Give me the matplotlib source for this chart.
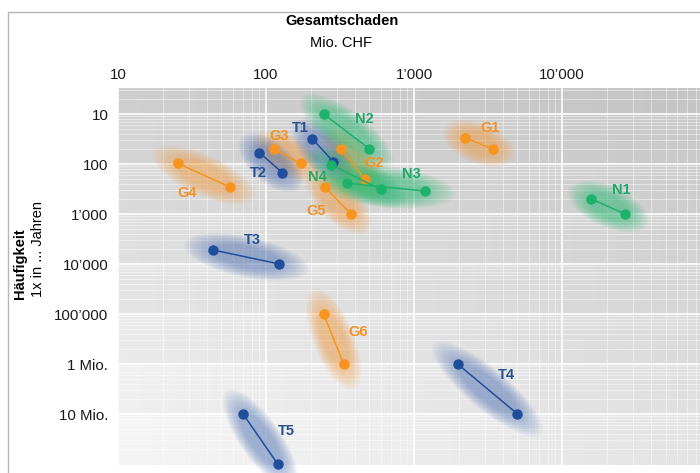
import numpy as np
import matplotlib
matplotlib.use("Agg")
import matplotlib.pyplot as plt
from matplotlib.ticker import FixedLocator, FixedFormatter, NullFormatter, LogLocator
from matplotlib.patches import Rectangle

plt.rcParams['font.family'] = ['Liberation Sans', 'DejaVu Sans']

# ======== Data (Schaden in Mio. CHF, Wiederkehrperiode in Jahren) ========
names = ['G1', 'G2', 'G3', 'G4', 'G5', 'G6',
         'T1', 'T2', 'T3', 'T4', 'T5',
         'N1', 'N2', 'N3', 'N4']
damage_a = [2210, 320, 113, 25.4, 250, 245,
            205, 90, 44, 1970, 70,
            15700, 245, 354, 274]
damage_b = [3420, 465, 171, 57, 375, 335,
            285, 129, 123, 5000, 120,
            26700, 500, 1180, 596]
period_a = [30, 50, 50, 97, 290, 1.0e5,
            31, 59, 5250, 1.0e6, 1.0e7,
            500, 10, 243, 103]
period_b = [50, 200, 97, 290, 1000, 1.0e6,
            90, 149, 10000, 1.0e7, 1.0e8,
            1000, 50, 347, 321]

x_ticks = [10, 100, 1000, 10000]
x_ticklabels = ['10', '100', '1\u2019000', '10\u2019000']
y_ticks_years = [10, 100, 1000, 10000, 1e5, 1e6, 1e7]
y_ticklabels = ['10', '100', '1\u2019000', '10\u2019000', '100\u2019000', '1 Mio.', '10 Mio.']

# ======== Styles ========
point_col = {'G': '#F7941D', 'T': '#1F4E9C', 'N': '#1DB26B'}
text_col = {'G': '#F39224', 'T': '#28508F', 'N': '#20A86A'}
glow_col = {'G': '#F5A04A', 'T': '#5A7BB8', 'N': '#2DBA78'}
# label offsets (points) relative to first point of each pair
label_off = {'G1': (18, 7), 'G2': (24, -10), 'G3': (4, 9.5), 'G4': (6.5, -21),
             'G5': (-6, -17), 'G6': (25, -13), 'T1': (-8.5, 7.5), 'T2': (-0.7, -15),
             'T3': (28, 7.5), 'T4': (35, -8), 'T5': (31, -12), 'N1': (21.5, 6.5),
             'N2': (29.5, -3.6), 'N3': (46, 6.5), 'N4': (-9.5, -8.6)}

X_LIM = (10, 10 ** 4.932)
Y_LIM = (10 ** -8.02, 10 ** -0.48)   # plotted as frequency 1/T

fig = plt.figure(figsize=(7, 4.73), dpi=100)
ax = fig.add_axes([118 / 700, 8 / 473, 582 / 700, 377 / 473])
ax.set_xscale('log')
ax.set_yscale('log')
ax.set_xlim(*X_LIM)
ax.set_ylim(*Y_LIM)

# ---- background: decade bands, darker to the right ----
xe = np.logspace(np.log10(X_LIM[0]), np.log10(X_LIM[1]), 120)
ye = np.array([Y_LIM[0]] + [10.0 ** k for k in range(-7, 0)] + [Y_LIM[1]])
fx = np.linspace(0, 1, len(xe) - 1)
C = np.zeros((len(ye) - 1, len(xe) - 1))
for r in range(len(ye) - 1):
    i = len(ye) - 2 - r          # band index from top
    left = 0.81 + i * 0.021
    right = 0.77 + i * 0.017
    C[r] = left + (right - left) * fx
ax.pcolormesh(xe, ye, C, cmap='gray', vmin=0, vmax=1, shading='flat', zorder=0.1)

ax.set_axisbelow(True)
ax.grid(which='major', color='white', linewidth=1.3, alpha=0.9)
ax.grid(which='minor', color='white', linewidth=0.6, alpha=0.55)
ax.xaxis.set_minor_locator(LogLocator(base=10, subs=np.arange(2, 10)))
ax.yaxis.set_minor_locator(LogLocator(base=10, subs=np.arange(2, 10)))
ax.xaxis.set_minor_formatter(NullFormatter())
ax.yaxis.set_minor_formatter(NullFormatter())

ax.xaxis.tick_top()
ax.xaxis.set_major_locator(FixedLocator(x_ticks))
ax.xaxis.set_major_formatter(FixedFormatter(x_ticklabels))
ax.yaxis.set_major_locator(FixedLocator([1 / t for t in y_ticks_years]))
ax.yaxis.set_major_formatter(FixedFormatter(y_ticklabels))
ax.tick_params(which='both', length=0, labelsize=10.8, colors='#1a1a1a')
ax.tick_params(axis='x', pad=4)
ax.tick_params(axis='y', pad=7)
for s in ax.spines.values():
    s.set_visible(False)


def glow(x0, y0, x1, y1, color):
    p = ax.transData.transform([(x0, y0), (x1, y1)])
    c = p.mean(axis=0)
    d = p[1] - p[0]
    L = np.hypot(*d)
    ang = np.arctan2(d[1], d[0])
    a, b = L / 2 + 14, 15.5
    t = np.linspace(0, 2 * np.pi, 120)
    R = np.array([[np.cos(ang), -np.sin(ang)], [np.sin(ang), np.cos(ang)]])
    for s in np.linspace(1.32, 0.7, 11):
        e = np.vstack([s * a * np.cos(t), s * b * np.sin(t)])
        v = (R @ e).T + c
        vd = ax.transData.inverted().transform(v)
        ax.fill(vd[:, 0], vd[:, 1], color=color, alpha=0.065, lw=0, zorder=2, clip_on=False)


for n, xa, xb, ta, tb in zip(names, damage_a, damage_b, period_a, period_b):
    glow(xa, 1 / ta, xb, 1 / tb, glow_col[n[0]])

for n, xa, xb, ta, tb in zip(names, damage_a, damage_b, period_a, period_b):
    ax.plot([xa, xb], [1 / ta, 1 / tb], '-', color=point_col[n[0]], lw=1.1,
            marker='o', markersize=6.5, zorder=4, clip_on=False)
    ax.annotate(n, (xa, 1 / ta), xytext=label_off[n], textcoords='offset points',
                ha='center', va='center', fontsize=10.5, fontweight='bold',
                color=text_col[n[0]], zorder=5)

# titles
fig.text(342 / 700, 1 - 21 / 473, 'Gesamtschaden', ha='center', va='center',
         fontsize=10.5, fontweight='bold')
fig.text(341 / 700, 1 - 43 / 473, 'Mio. CHF', ha='center', va='center', fontsize=10.5)
fig.text(20 / 700, 1 - 264 / 473, 'H\u00e4ufigkeit', rotation=90, ha='center',
         va='center', fontsize=10.5, fontweight='bold')
fig.text(38 / 700, 1 - 249 / 473, '1x in ... Jahren', rotation=90, ha='center',
         va='center', fontsize=10.5)

# outer frame
fig.patches.append(Rectangle((8 / 700, -0.1), 1.2, 1 - 12 / 473 + 0.1,
                             transform=fig.transFigure, fill=False,
                             ec='#b5b5b5', lw=1))

plt.savefig('out.png', dpi=100)
